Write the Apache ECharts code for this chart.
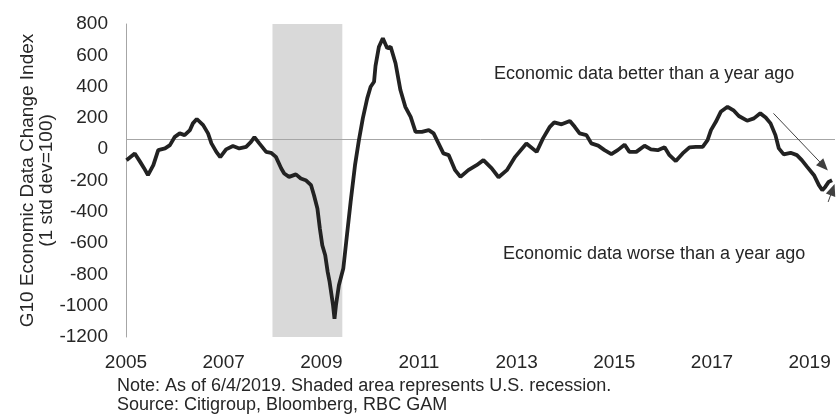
<!DOCTYPE html>
<html>
<head>
<meta charset="utf-8">
<script src="https://cdn.jsdelivr.net/npm/echarts@6/dist/echarts.min.js"></script>
<style>
  html, body { margin: 0; padding: 0; background: #fff; }
  #chart { width: 838px; height: 414px; }
</style>
</head>
<body>
<div id="chart"></div>
<script>
// 年份（小数） / 指数值
var years = [
  2005.01, 2005.18, 2005.29, 2005.37, 2005.45, 2005.56, 2005.66, 2005.80, 2005.90, 2006.00,
  2006.10, 2006.20, 2006.31, 2006.37, 2006.45, 2006.58, 2006.68, 2006.75, 2006.85, 2006.93,
  2007.05, 2007.19, 2007.32, 2007.46, 2007.56, 2007.63, 2007.73, 2007.87, 2007.97, 2008.07,
  2008.18, 2008.24, 2008.34, 2008.48, 2008.58, 2008.68, 2008.79, 2008.85, 2008.92, 2008.97,
  2009.02, 2009.08, 2009.13, 2009.17, 2009.21, 2009.24, 2009.27, 2009.30, 2009.36, 2009.45,
  2009.51, 2009.60, 2009.69, 2009.77, 2009.85, 2009.94, 2010.01, 2010.08, 2010.11, 2010.18,
  2010.26, 2010.35, 2010.42, 2010.52, 2010.62, 2010.72, 2010.83, 2010.93, 2011.06, 2011.20,
  2011.30, 2011.40, 2011.50, 2011.61, 2011.74, 2011.85, 2012.01, 2012.18, 2012.32, 2012.49,
  2012.63, 2012.80, 2012.97, 2013.20, 2013.41, 2013.54, 2013.68, 2013.77, 2013.92, 2014.09,
  2014.19, 2014.29, 2014.43, 2014.53, 2014.67, 2014.80, 2014.94, 2015.07, 2015.21, 2015.31,
  2015.45, 2015.62, 2015.75, 2015.89, 2016.03, 2016.13, 2016.26, 2016.40, 2016.54, 2016.67,
  2016.81, 2016.91, 2016.98, 2017.08, 2017.18, 2017.32, 2017.45, 2017.55, 2017.72, 2017.86,
  2017.99, 2018.10, 2018.20, 2018.30, 2018.37, 2018.47, 2018.61, 2018.74, 2018.84, 2018.95,
  2019.09, 2019.19, 2019.26, 2019.32, 2019.39, 2019.46
];
var values = [
  -70, -27, -81, -121, -166, -102, -6, 5, 26, 79,
  101, 90, 122, 165, 193, 154, 101, 37, -17, -51,
  -1, 20, 5, 15, 47, 77, 37, -17, -23, -49,
  -123, -155, -177, -161, -187, -198, -230, -294, -379, -507,
  -614, -678, -784, -848, -933, -997, -1083, -997, -869, -763,
  -592, -337, -102, 58, 197, 325, 399, 431, 532, 655,
  709, 645, 655, 549, 378, 271, 207, 111, 111, 122,
  101, 37, -27, -38, -134, -177, -134, -102, -70, -123,
  -179, -134, -49, 37, -17, 69, 143, 171, 159, 180,
  143, 101, 90, 37, 23, -6, -31, -6, 29, -17,
  -17, 22, -1, -6, 13, -38, -76, -27, 12, 15,
  15, 58, 122, 175, 239, 271, 246, 212, 182, 197,
  229, 203, 165, 90, 5, -33, -23, -38, -70, -113,
  -166, -230, -262, -241, -209, -198
];

// 坐标轴刻度
var yearTicks = [2005, 2007, 2009, 2011, 2013, 2015, 2017, 2019];
var recession = [2008.0, 2009.43];
var crossLevel = 63;

var font = 'Liberation Sans, Arial, sans-serif';
var ink = '#262626';

var chart = echarts.init(document.getElementById('chart'), null, { renderer: 'canvas' });

chart.setOption({
  animation: false,
  textStyle: { fontFamily: font },
  grid: { left: 126, right: 0, top: 24, bottom: 77 },
  xAxis: {
    type: 'value',
    min: 2005,
    max: 2019.52,
    interval: 2,
    axisLine: { show: false },
    axisTick: { show: false },
    splitLine: { show: false },
    axisLabel: {
      margin: 16,
      fontSize: 19,
      color: ink,
      fontFamily: font,
      formatter: function (v) {
        return yearTicks.indexOf(v) >= 0 ? String(v) : '';
      }
    }
  },
  yAxis: {
    type: 'value',
    min: -1200,
    max: 800,
    interval: 200,
    name: 'G10 Economic Data Change Index\n(1 std dev=100)',
    nameLocation: 'middle',
    nameRotate: 90,
    nameGap: 70,
    nameMoveOverlap: false,
    nameTextStyle: { fontSize: 19, lineHeight: 19, color: ink, fontFamily: font },
    axisLine: { show: true, lineStyle: { color: '#a6a6a6', width: 1 } },
    axisTick: { show: false },
    splitLine: { show: false },
    axisLabel: {
      margin: 18, fontSize: 19, color: ink, fontFamily: font,
      formatter: function (v) { return String(v); }
    }
  },
  series: [{
    type: 'line',
    data: years.map(function (y, i) { return [y, values[i]]; }),
    showSymbol: false,
    smooth: false,
    z: 5,
    lineStyle: { color: '#222', width: 3.8 },
    markArea: {
      silent: true,
      itemStyle: { color: '#d9d9d9' },
      data: [[{ xAxis: recession[0] }, { xAxis: recession[1] }]]
    },
    markLine: {
      silent: true,
      symbol: ['none', 'none'],
      label: { show: false },
      lineStyle: { color: '#a6a6a6', width: 1, type: 'solid' },
      data: [
        [{ coord: [2005, crossLevel] }, { coord: [2019.52, crossLevel] }],
        [
          { coord: [2018.26, 229], symbol: 'none', lineStyle: { color: '#404040' } },
          { coord: [2019.29, -108], symbol: 'triangle', symbolSize: [10, 12] }
        ],
        [
          { coord: [2019.38, -337], symbol: 'none', lineStyle: { color: '#404040' } },
          { coord: [2019.47, -258], symbol: 'triangle', symbolSize: [10, 12] }
        ]
      ]
    }
  }],
  graphic: [
    {
      type: 'text', left: 494, top: 65,
      style: { text: 'Economic data better than a year ago', font: '18px ' + font, fill: ink }
    },
    {
      type: 'text', left: 503, top: 245,
      style: { text: 'Economic data worse than a year ago', font: '18px ' + font, fill: ink }
    },
    {
      type: 'text', left: 117, top: 377,
      style: {
        text: 'Note: As of 6/4/2019. Shaded area represents U.S. recession.\nSource: Citigroup, Bloomberg, RBC GAM',
        font: '18px ' + font, fill: ink, lineHeight: 19
      }
    }
  ]
});
</script>
</body>
</html>
